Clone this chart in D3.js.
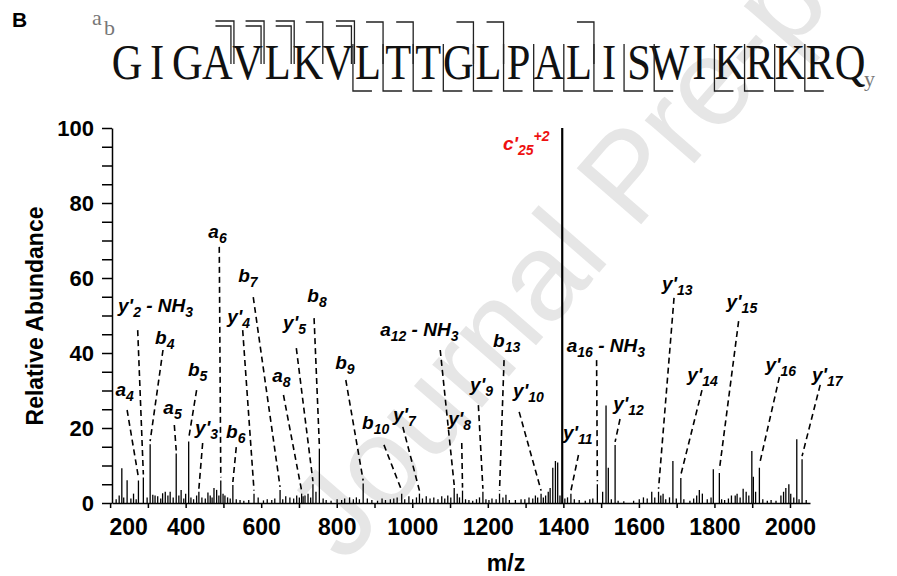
<!DOCTYPE html>
<html lang="en">
<head>
<meta charset="UTF-8">
<title>MS/MS spectrum</title>
<style>
  html, body { padding:0; margin:0; background:#fff; }
  svg text { font-family: "Liberation Sans", Arial, sans-serif; }
</style>
</head>
<body>
<script src="https://d3js.org/d3.v7.min.js"></script>
<script>
var width = 897, height = 576;

// peptide and observed cleavages (site n = after residue n)
var sequence = 'GIGAVLKVLTTGLPALISWIKRKRQ'.split('');
var aSites = [4, 5, 6, 8, 12, 16];
var bSites = [4, 5, 6, 7, 8, 9, 10, 13];
var yIons = [2, 3, 4, 5, 7, 8, 9, 10, 11, 12, 13, 14, 15, 16, 17];

// axis ticks
var xTicks = d3.range(200, 2001, 100);
var yTicks = d3.range(0, 101, 5);

// main peaks [m/z, relative abundance]
var peaks = [
  [231, 9.3], [245, 6.1], [275, 6], [288, 6.8], [306, 15.7], [319, 2], [346, 3], [359, 3],
  [375, 13.2], [388, 3.5], [408, 16.4], [435, 3], [465, 2], [475, 4], [493, 6], [504, 2],
  [525, 4.8], [581, 2.5], [592, 1.5], [650, 3.5], [676, 1.5], [707, 2.5], [716, 2], [724, 2.5],
  [737, 5], [754, 14.5], [870, 5.2], [972, 2.5], [1019, 2.5], [1111, 4], [1133, 3.3], [1187, 3],
  [1231, 2.5], [1341, 2.5], [1372, 9.4], [1379, 11.2], [1385, 10.8], [1397, 100], [1420, 2.5],
  [1490, 5], [1513, 26], [1519, 9.4], [1537, 15.5], [1634, 3], [1652, 3], [1664, 2.5],
  [1690, 11.2], [1711, 6.7], [1797, 9], [1813, 8], [1855, 2], [1876, 3.8], [1899, 13.9],
  [1903, 7], [1919, 9.4], [1989, 4], [2018, 17], [2032, 11.7]
];

// small background peaks
var noise = [
  [216, 1], [224, 2], [236, 1.5], [255, 1.2], [262, 2.5], [269, 1], [298, 1.5], [313, 2.2],
  [326, 1.8], [334, 1.2], [339, 2.6], [353, 2], [367, 1.5], [382, 2], [395, 1.2], [400, 2.5],
  [414, 1.5], [421, 1], [429, 2], [443, 1.5], [452, 1.2], [459, 2.8], [470, 1.5], [482, 3.5],
  [488, 2], [499, 2.5], [511, 1.5], [518, 1.2], [534, 1], [544, 0.8], [554, 0.6], [567, 0.8],
  [606, 0.7], [616, 1], [628, 0.8], [636, 1.2], [657, 1], [665, 1.8], [686, 1.2], [694, 2],
  [701, 1.5], [711, 1.8], [731, 1.5], [745, 3], [764, 1.2], [772, 0.8], [785, 0.6], [801, 1],
  [813, 0.8], [821, 1.2], [834, 1.5], [844, 1], [852, 1.5], [860, 1], [881, 1.2], [893, 0.8],
  [908, 0.6], [920, 1.2], [929, 0.8], [942, 1], [951, 1.2], [960, 1.5], [980, 1], [991, 1.8],
  [1001, 1], [1011, 1.5], [1027, 1.2], [1037, 1.8], [1047, 1.2], [1057, 1.5], [1068, 1],
  [1078, 1.8], [1086, 1.2], [1094, 2], [1102, 1.5], [1119, 2.5], [1125, 1.5], [1141, 1],
  [1150, 0.8], [1160, 0.6], [1170, 1], [1178, 1.5], [1195, 1], [1203, 0.8], [1211, 1.2],
  [1222, 1], [1240, 1.5], [1248, 2.2], [1257, 0.8], [1273, 0.8], [1288, 1], [1298, 1],
  [1309, 1.5], [1319, 1.2], [1326, 2], [1332, 1.5], [1347, 1.5], [1353, 2], [1360, 3],
  [1365, 4], [1391, 2], [1404, 1.2], [1411, 1.5], [1429, 1], [1442, 0.8], [1458, 0.6],
  [1470, 1], [1478, 1.2], [1504, 3], [1527, 1], [1545, 0.6], [1560, 0.5], [1586, 0.6],
  [1601, 1], [1612, 1.5], [1622, 1.2], [1642, 1.5], [1658, 2], [1671, 1], [1681, 1.5],
  [1699, 1.2], [1719, 1], [1735, 0.6], [1745, 1.2], [1753, 2], [1760, 3.5], [1768, 2.5],
  [1781, 1], [1791, 1.5], [1819, 1], [1827, 0.8], [1837, 1.2], [1845, 2], [1860, 2.5],
  [1868, 1.5], [1884, 3], [1891, 2], [1909, 3], [1928, 1], [1940, 0.6], [1950, 0.8],
  [1963, 0.6], [1976, 2], [1983, 3], [1997, 5], [2002, 2.5], [2010, 1.5], [2024, 1], [2043, 0.8]
];

// fragment labels: text, peak m/z, label anchor (m/z, abund), leader start (m/z, abund)
var labels = [
  { t: "a_{4}",            mz: 275,  tx: 214,  ty: 28.5, lx: 245,  ly: 24.8 },
  { t: "y'_{2} - NH_{3}",  mz: 288,  tx: 221,  ty: 50.9, lx: 273,  ly: 46.1 },
  { t: "b_{4}",            mz: 306,  tx: 319,  ty: 42.4, lx: 340,  ly: 40.8 },
  { t: "a_{5}",            mz: 375,  tx: 341,  ty: 23.7, lx: 370,  ly: 20.8 },
  { t: "b_{5}",            mz: 408,  tx: 406,  ty: 33.9, lx: 429,  ly: 30.1 },
  { t: "y'_{3}",           mz: 435,  tx: 425,  ty: 18.4, lx: 445,  ly: 16 },
  { t: "b_{6}",            mz: 525,  tx: 507,  ty: 17.3, lx: 534,  ly: 14.9 },
  { t: "a_{6}",            mz: 493,  tx: 460,  ty: 70.7, lx: 489,  ly: 68.3 },
  { t: "b_{7}",            mz: 650,  tx: 539,  ty: 58.9, lx: 579,  ly: 54.9 },
  { t: "y'_{4}",           mz: 581,  tx: 510,  ty: 48,   lx: 551,  ly: 46.1 },
  { t: "a_{8}",            mz: 707,  tx: 629,  ty: 32.3, lx: 659,  ly: 28.8 },
  { t: "y'_{5}",           mz: 737,  tx: 658,  ty: 46.4, lx: 693,  ly: 41.3 },
  { t: "b_{8}",            mz: 754,  tx: 722,  ty: 53.6, lx: 740,  ly: 49.3 },
  { t: "b_{9}",            mz: 870,  tx: 796,  ty: 35.7, lx: 824,  ly: 32.8 },
  { t: "b_{10}",           mz: 972,  tx: 867,  ty: 19.7, lx: 925,  ly: 15.5 },
  { t: "y'_{7}",           mz: 1019, tx: 949,  ty: 21.9, lx: 975,  ly: 20.3 },
  { t: "a_{12} - NH_{3}",  mz: 1111, tx: 915,  ty: 44.5, lx: 1074, ly: 40.8 },
  { t: "y'_{8}",           mz: 1133, tx: 1095, ty: 20.8, lx: 1131, ly: 16 },
  { t: "y'_{9}",           mz: 1187, tx: 1153, ty: 29.9, lx: 1175, ly: 26.1 },
  { t: "b_{13}",           mz: 1231, tx: 1214, ty: 41.6, lx: 1243, ly: 38.1 },
  { t: "y'_{10}",          mz: 1341, tx: 1267, ty: 28.3, lx: 1283, ly: 24.3 },
  { t: "c'_{25}^{+2}",     mz: 1397, tx: 1240, ty: 94.1, red: true },
  { t: "y'_{11}",          mz: 1420, tx: 1399, ty: 17.1, lx: 1440, ly: 12.8 },
  { t: "a_{16} - NH_{3}",  mz: 1490, tx: 1409, ty: 40.3, lx: 1488, ly: 38.1 },
  { t: "y'_{12}",          mz: 1537, tx: 1532, ty: 24.8, lx: 1550, ly: 22.4 },
  { t: "y'_{13}",          mz: 1652, tx: 1661, ty: 56.8, lx: 1693, ly: 54.7 },
  { t: "y'_{14}",          mz: 1711, tx: 1728, ty: 32.5, lx: 1767, ly: 30.1 },
  { t: "y'_{15}",          mz: 1813, tx: 1832, ty: 52,   lx: 1864, ly: 48.5 },
  { t: "y'_{16}",          mz: 1919, tx: 1935, ty: 35.2, lx: 1972, ly: 33.6 },
  { t: "y'_{17}",          mz: 2032, tx: 2058, ty: 32.5, lx: 2080, ly: 31.5 }
];

var svg = d3.select('body').append('svg')
    .attr('width', width)
    .attr('height', height);

// watermark
svg.append('text')
    .attr('transform', 'translate(345,565) rotate(-49)')
    .style('font-size', '124px')
    .attr('fill', '#e6e6e6')
    .text('Journal Pre-proof');

var x = d3.scaleLinear().domain([205, 2053]).range([112, 810]);
var y = d3.scaleLinear().domain([0, 100]).range([503, 128]);

// panel letter
svg.append('text').attr('x', 12).attr('y', 27)
    .style('font-size', '21px').style('font-weight', 'bold').text('B');

// ---- sequence with fragment map ----
var seqX = d3.scalePoint().domain(d3.range(sequence.length)).range([127, 850]);

svg.selectAll('text.res').data(sequence).join('text')
    .attr('class', 'res')
    .attr('transform', function(d, i) { return 'translate(' + seqX(i) + ',79) scale(0.85,1)'; })
    .attr('text-anchor', 'middle')
    .style('font-family', '"Liberation Serif", serif')
    .style('font-size', '50px')
    .attr('fill', '#111')
    .text(function(d) { return d; });

var serifGray = function(sel) {
    sel.style('font-family', '"Liberation Serif", serif').style('font-size', '22px').attr('fill', '#777');
};
svg.append('text').attr('x', 92).attr('y', 25).call(serifGray).text('a');
svg.append('text').attr('x', 104).attr('y', 35).call(serifGray).text('b');
svg.append('text').attr('x', 864).attr('y', 86).call(serifGray).text('y');

var sites = d3.range(1, sequence.length).map(function(n) {
    return { n: n, a: aSites.includes(n), b: bSites.includes(n),
             y: yIons.includes(sequence.length - n) };
});

var hooks = svg.append('g').attr('fill', 'none').attr('stroke', '#222').attr('stroke-width', 1.3);
sites.forEach(function(s) {
    var bx = (seqX(s.n - 1) + seqX(s.n)) / 2;
    if (s.a && s.b) {
        hooks.append('path').attr('d', 'M' + (bx - 17) + ',21H' + (bx + 1.5) + 'V64');
        hooks.append('path').attr('d', 'M' + (bx - 17) + ',26H' + (bx - 1.5) + 'V64');
    } else if (s.a || s.b) {
        hooks.append('path').attr('d', 'M' + (bx - 17) + ',22H' + bx + 'V64');
    }
    if (s.y) {
        hooks.append('path').attr('d', 'M' + bx + ',44V91H' + (bx + 19));
    }
});

// ---- axes ----
var yAxis = svg.append('g')
    .attr('transform', 'translate(' + x(205) + ',0)')
    .call(d3.axisLeft(y).tickValues(yTicks).tickSize(10).tickSizeOuter(0).tickPadding(8)
        .tickFormat(function(d) { return d % 20 === 0 ? d : ''; }));

var xAxis = svg.append('g')
    .attr('transform', 'translate(0,' + y(0) + ')')
    .call(d3.axisBottom(x).tickValues(xTicks).tickSize(5).tickSizeOuter(0).tickPadding(11)
        .tickFormat(function(d) { return d % 200 === 0 ? d : ''; }));

[xAxis, yAxis].forEach(function(g) {
    g.selectAll('path, line').attr('stroke', '#000').attr('stroke-width', 1.5);
    g.selectAll('text').style('font-size', '22px').style('font-weight', 'bold')
        .style('font-family', '"Liberation Sans", Arial, sans-serif').attr('fill', '#000');
});
// first label sits clear of the y axis
xAxis.selectAll('.tick text').style('font-size', '23px')
    .attr('dx', function(d) { return d === 200 ? 18 : 0; });

svg.append('text')
    .attr('transform', 'translate(43,316) rotate(-90)')
    .attr('text-anchor', 'middle')
    .style('font-size', '23px').style('font-weight', 'bold')
    .text('Relative Abundance');

svg.append('text')
    .attr('x', 506).attr('y', 571)
    .attr('text-anchor', 'middle')
    .style('font-size', '23px').style('font-weight', 'bold')
    .text('m/z');

// ---- peaks ----
var allPeaks = noise.concat(peaks);
svg.append('g').selectAll('line').data(allPeaks).join('line')
    .attr('x1', function(d) { return x(d[0]); })
    .attr('x2', function(d) { return x(d[0]); })
    .attr('y1', y(0))
    .attr('y2', function(d) { return y(d[1]); })
    .attr('stroke', '#000')
    .attr('stroke-width', function(d) { return d[1] > 50 ? 2.2 : 1.3; });

// ---- fragment annotations ----
function peakAt(mz) {
    return peaks.reduce(function(best, p) {
        return Math.abs(p[0] - mz) < Math.abs(best[0] - mz) ? p : best;
    });
}

var leaders = svg.append('g').attr('stroke', '#000').attr('stroke-width', 1.6)
    .attr('stroke-dasharray', '6,4');
labels.filter(function(d) { return d.lx != null; }).forEach(function(d) {
    var p = peakAt(d.mz);
    leaders.append('line')
        .attr('x1', x(d.lx)).attr('y1', y(d.ly))
        .attr('x2', x(p[0])).attr('y2', y(p[1]) - 3);
});

var labelG = svg.append('g');
labels.forEach(function(d) {
    var t = labelG.append('text')
        .attr('x', x(d.tx)).attr('y', y(d.ty))
        .style('font-size', '19px').style('font-weight', 'bold').style('font-style', 'italic')
        .attr('fill', d.red ? '#ee1111' : '#000');
    var parts = d.t.match(/_\{[^}]*\}|\^\{[^}]*\}|[^_^]+/g);
    var shift = 0;
    parts.forEach(function(p) {
        var target = 0, txt = p, size = '19px';
        if (p[0] === '_') { target = 5; txt = p.slice(2, -1); size = '14px'; }
        else if (p[0] === '^') { target = -9; txt = p.slice(2, -1); size = '14px'; }
        t.append('tspan').attr('dy', target - shift).style('font-size', size).text(txt);
        shift = target;
    });
});
</script>
</body>
</html>
